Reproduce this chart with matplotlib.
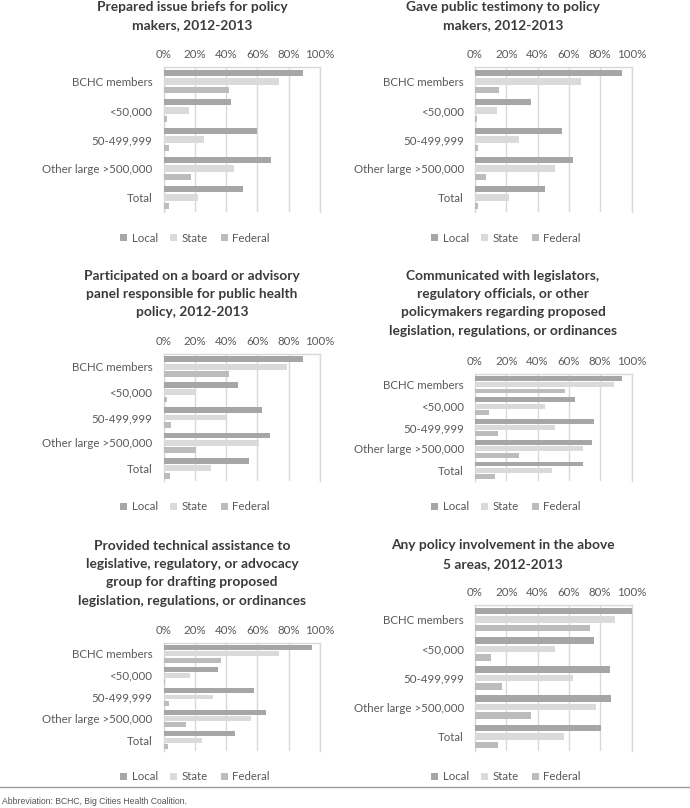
import matplotlib
matplotlib.use("Agg")
import matplotlib.pyplot as plt
from matplotlib.patches import Patch
from matplotlib.lines import Line2D

plt.rcParams['font.family'] = ['Lato', 'DejaVu Sans']

categories = ["BCHC members", "<50,000", "50-499,999", "Other large >500,000", "Total"]
series_names = ["Local", "State", "Federal"]
tick_labels = ["0%", "20%", "40%", "60%", "80%", "100%"]

titles = [
    ["Prepared issue briefs for policy", "makers, 2012-2013"],
    ["Gave public testimony to policy", "makers, 2012-2013"],
    ["Participated on a board or advisory", "panel responsible for public health", "policy, 2012-2013"],
    ["Communicated with legislators,", "regulatory officials, or other",
     "policymakers regarding proposed", "legislation, regulations, or ordinances"],
    ["Provided technical assistance to", "legislative, regulatory, or advocacy",
     "group for drafting proposed", "legislation, regulations, or ordinances"],
    ["Any policy involvement in the above", "5 areas, 2012-2013"],
]

# values in percent, order: categories
briefs_local = [89, 43, 60, 69, 51]
briefs_state = [73.5, 16.5, 26, 45, 22]
briefs_federal = [42, 2, 3.6, 17.4, 3.6]

testimony_local = [94, 35.5, 55.5, 62.6, 45]
testimony_state = [68, 14, 28, 51, 21.7]
testimony_federal = [15.5, 1.5, 2, 7, 2]

board_local = [89, 47.7, 63, 68, 54.7]
board_state = [79, 21, 40, 61, 30.6]
board_federal = [42, 2, 4.7, 21, 4.3]

communicated_local = [94, 63.6, 76, 75, 69]
communicated_state = [89, 45, 51, 68.7, 49]
communicated_federal = [57.7, 8.7, 15, 28, 12.5]

technical_local = [95, 34.8, 57.7, 65.8, 45.5]
technical_state = [74, 16.7, 31.6, 56, 24.8]
technical_federal = [37, 1, 3.4, 14.3, 3]

any_local = [100, 76.3, 86, 87, 80.6]
any_state = [89.3, 51.4, 62.5, 77, 57.1]
any_federal = [73.6, 10.2, 17.5, 35.6, 15]

panel_data = [
    (briefs_local, briefs_state, briefs_federal),
    (testimony_local, testimony_state, testimony_federal),
    (board_local, board_state, board_federal),
    (communicated_local, communicated_state, communicated_federal),
    (technical_local, technical_state, technical_federal),
    (any_local, any_state, any_federal),
]

W, H = 690, 808
fig = plt.figure(figsize=(W / 100, H / 100), dpi=100)
fig.patch.set_facecolor("white")

colors = ["#a6a6a6", "#dadada", "#bcbcbc"]
grid_c = "#d9d9d9"
text_c = "#595959"
title_c = "#3b3b3b"

# axes boxes in pixels: x0, x1, y_top, y_bottom
boxes = [
    (163.5, 320, 67, 212),
    (475, 631.5, 67, 212),
    (163.5, 320, 354, 481),
    (475, 631.5, 374, 481),
    (163.5, 320, 643, 751),
    (475, 631.5, 605, 751),
]
title_cx = [192, 503, 192, 503, 192, 503]
title_ys = [
    [7, 25],
    [7, 25],
    [276, 294, 312],
    [276, 294, 312, 331],
    [546, 564, 582, 601],
    [545, 564],
]
legend_pos = [(195, 238), (506, 238), (195, 507), (506, 507), (195, 777), (506, 777)]

for k, (box, vals) in enumerate(zip(boxes, panel_data)):
    x0, x1, yt, yb = box
    ax = fig.add_axes([x0 / W, 1 - yb / H, (x1 - x0) / W, (yb - yt) / H])
    pitch = 0.293
    bh = 0.225
    ypos = list(range(len(categories)))
    for j, (name, ser) in enumerate(zip(series_names, vals)):
        ax.barh([y + (j - 1) * pitch for y in ypos], [v / 100 for v in ser],
                height=bh, color=colors[j], label=name, zorder=3)
    ax.set_xlim(0, 1)
    ax.set_ylim(len(categories) - 0.5, -0.5)
    ax.set_yticks(ypos)
    ax.set_yticklabels(categories)
    ax.set_xticks([0, 0.2, 0.4, 0.6, 0.8, 1.0])
    ax.set_xticklabels(tick_labels)
    ax.xaxis.tick_top()
    ax.tick_params(axis="both", length=0, labelsize=8.3, labelcolor=text_c)
    ax.tick_params(axis="y", pad=8)
    ax.tick_params(axis="x", pad=5)
    ax.grid(axis="x", color=grid_c, linewidth=1, zorder=0)
    for side in ["left", "right", "top"]:
        ax.spines[side].set_color(grid_c)
        ax.spines[side].set_linewidth(1)
    ax.spines["bottom"].set_visible(False)
    ax.set_facecolor("white")

    for line, yy in zip(titles[k], title_ys[k]):
        fig.text(title_cx[k] / W, 1 - yy / H, line, ha="center", va="center",
                 fontsize=9.9, color=title_c, fontweight="bold")

    handles = [Patch(facecolor=c, edgecolor="none") for c in colors]
    lx, ly = legend_pos[k]
    ax.legend(handles, series_names, loc="center", ncol=3, frameon=False,
              bbox_to_anchor=(lx / W, 1 - ly / H), bbox_transform=fig.transFigure,
              fontsize=8.3, labelcolor=text_c, handlelength=0.6, handleheight=0.6,
              handletextpad=0.4, columnspacing=1.1, borderaxespad=0)

fig.add_artist(Line2D([0, 1], [1 - 787 / H, 1 - 787 / H], transform=fig.transFigure,
                      color="#9a9a9a", linewidth=1))
fig.text(2 / W, 1 - 802 / H, "Abbreviation: BCHC, Big Cities Health Coalition.",
         ha="left", va="center", fontsize=6.2, color="#555555",
         family=["Liberation Sans Narrow", "Liberation Sans", "DejaVu Sans"])

fig.savefig("out.png", dpi=100, facecolor="white")
